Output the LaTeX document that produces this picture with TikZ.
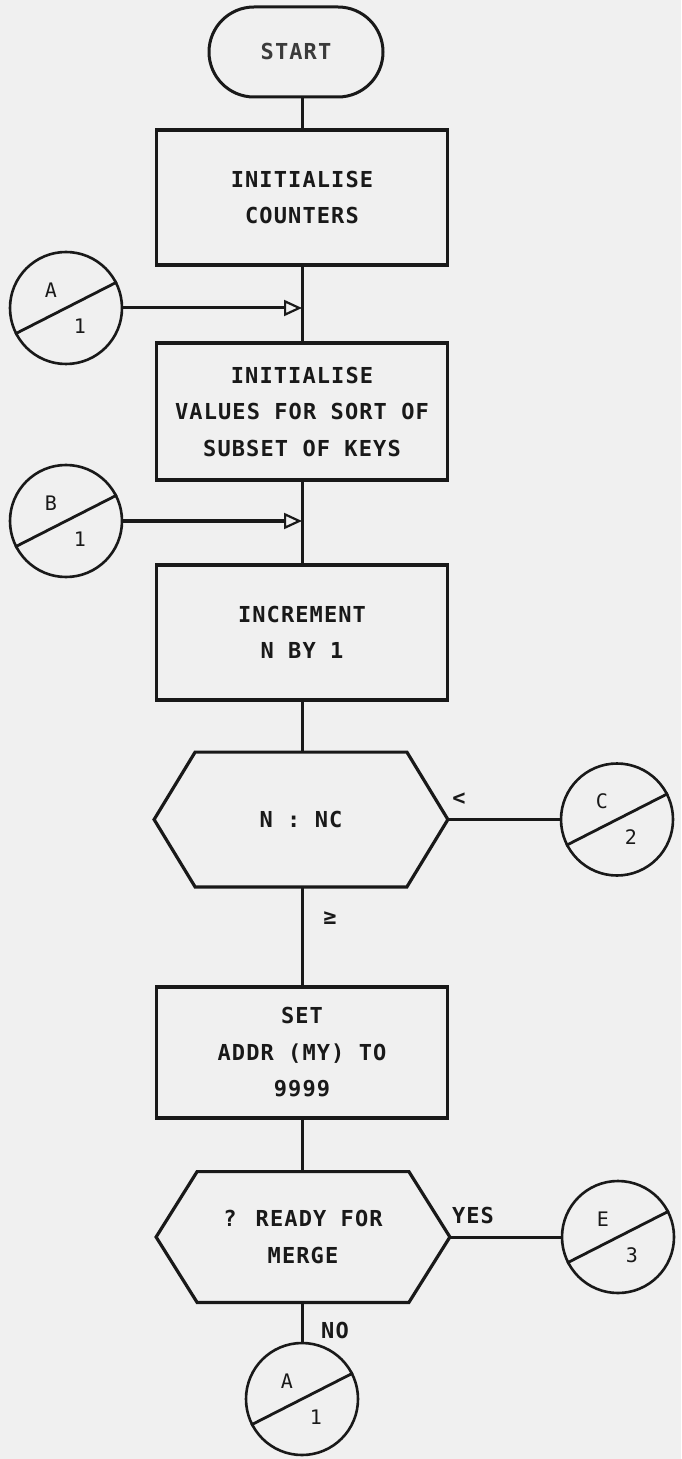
\documentclass[tikz,border=0pt]{standalone}
\usepackage{fontspec}
\newfontfamily\flowfont[LetterSpace=5]{DejaVu Sans Mono}
\usetikzlibrary{shapes.misc,arrows.meta,calc}
\definecolor{paper}{RGB}{240,240,240}
\definecolor{ink}{RGB}{25,25,25}
\tikzset{
 line/.style={draw=ink, line width=1.5pt},
 boxfont/.style={font=\flowfont\bfseries\fontsize{11}{18.25}\selectfont, text=ink},
 procbox/.style={boxfont, draw=ink, line width=1.7pt, rectangle, minimum width=145.5pt, inner sep=0pt, align=center},
 hexnode/.style={boxfont, rectangle, minimum width=146.5pt, minimum height=67pt, inner sep=0pt, align=center},
 hexline/.style={draw=ink, line width=1.6pt, line join=miter},
 term/.style={boxfont, rounded rectangle, draw=ink, line width=1.5pt, minimum width=87pt, minimum height=45pt, inner sep=0pt, text=ink!85},
 conn/.style={circle, draw=ink, line width=1.3pt, minimum size=56pt, inner sep=0pt},
 clabel/.style={font=\flowfont\fontsize{10}{10}\selectfont, text=ink, inner sep=0pt},
 flabel/.style={font=\flowfont\bfseries\fontsize{11}{12}\selectfont, text=ink, inner sep=0pt},
 openarrow/.style={-{Triangle[open, length=9pt, width=8pt, line width=1.1pt]}},
}
\newcommand{\offpage}[4]{%
 \node[conn] (#1) at (#2) {};
 \draw[line, line width=1.4pt] (#1.207) -- (#1.27);
 \node[clabel] (#1-up) at ($(#1)+(-15,-18)$) {#3};
 \node[clabel] (#1-lo) at ($(#1)+(14,18)$) {#4};
}
\newcommand{\hexdraw}[1]{%
 \draw[hexline] (#1.west) -- ([xshift=20.5pt]#1.north west) -- ([xshift=-20.5pt]#1.north east) -- (#1.east) -- ([xshift=-20.5pt]#1.south east) -- ([xshift=20.5pt]#1.south west) -- cycle;
}
\begin{document}
\begin{tikzpicture}[x=0.5pt,y=-0.5pt]
\path[fill=paper,use as bounding box] (0,0) rectangle (681,1459);

\node[term] (start) at (296,52) {START};
\node[procbox, minimum height=67.5pt] (box1) at (302,197.5) {INITIALISE\\COUNTERS};
\node[procbox, minimum height=68.5pt] (box2) at (302,411.5) {INITIALISE\\VALUES FOR SORT OF\\SUBSET OF KEYS};
\node[procbox, minimum height=67.5pt] (box3) at (302,632.5) {INCREMENT\\N BY 1};
\node[hexnode] (hex1) at (301,819.5) {N : NC};
\hexdraw{hex1}
\node[procbox, minimum height=65.5pt] (box4) at (302,1052.5) {SET\\ADDR (MY) TO\\9999};
\node[hexnode, minimum height=65pt] (hex2) at (303,1237) {? READY FOR\\MERGE};
\hexdraw{hex2}

\offpage{Atop}{66,308}{A}{1}
\offpage{Btop}{66,521}{B}{1}
\offpage{Cc}{617,819.5}{C}{2}
\offpage{Ee}{618,1237}{E}{3}
\offpage{Aend}{302,1399}{A}{1}

\coordinate (jA) at (302,308);
\coordinate (jB) at (302,521);

\draw[line] (start.south -| box1.north) -- (box1.north);
\draw[line] (box1.south) -- (box2.north);
\draw[line] (box2.south) -- (box3.north);
\draw[line] (box3.south) -- (hex1.north -| box3.south);
\draw[line] (hex1.south -| box4.north) -- (box4.north);
\draw[line] (box4.south) -- (hex2.north -| box4.south);
\draw[line] (hex2.south -| Aend.north) -- (Aend.north);
\draw[line] (hex1.east) -- (Cc.west);
\draw[line] (hex2.east) -- (Ee.west);
\draw[line, openarrow] (Atop.east) -- (jA);
\draw[line, openarrow] (Btop.east) -- (jB);

\node[flabel] (lt) at (459,799) {<};
\node[flabel] (ge) at (330,918) {≥};
\node[flabel] (yes) at (473,1215) {YES};
\node[flabel] (no) at (335,1330) {NO};
\end{tikzpicture}
\end{document}
